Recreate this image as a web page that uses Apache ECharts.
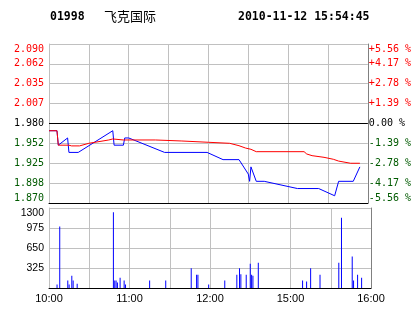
<!DOCTYPE html>
<html><head><meta charset="utf-8">
<script src="https://cdn.jsdelivr.net/npm/echarts@6/dist/echarts.min.js"></script>
<style>html,body{margin:0;padding:0;background:#fff}#c{width:414px;height:314px}</style>
</head><body><div id="c"></div>
<script>
const stockCode = '01998';
const stockName = '飞克国际';
const timestamp = '2010-11-12 15:54:45';
const prevClose = 1.98;
const priceTickLabels = ['1.870','1.898','1.925','1.952','1.980','2.007','2.035','2.062','2.090'];
const pctTickLabels = ['-5.56 %','-4.17 %','-2.78 %','-1.39 %','0.00 %','+1.39 %','+2.78 %','+4.17 %','+5.56 %'];
const volTickLabels = ['', '325', '650', '975', '1300'];
const timeTickLabels = ['10:00', '', '11:00', '', '12:00', '', '15:00', '', '16:00'];

const priceTimes = ['10:00','10:06','10:07','10:14','10:15','10:22','10:48','10:49','10:56','10:57','11:00','11:27','11:59','12:11','12:23','12:30','14:31','14:32','14:36','14:42','15:07','15:23','15:35','15:38','15:49','15:54'];
const priceValues = [1.970,1.970,1.950,1.960,1.940,1.940,1.970,1.950,1.950,1.960,1.960,1.940,1.940,1.930,1.930,1.910,1.900,1.920,1.900,1.900,1.890,1.890,1.880,1.900,1.900,1.920];

const avgTimes = ['10:00','10:06','10:07','10:15','10:17','10:23','10:30','10:45','10:48','10:56','11:20','11:21','11:40','11:41','12:00','12:16','12:23','12:28','14:32','14:36','15:12','15:14','15:18','15:27','15:34','15:38','15:47','15:54'];
const avgValues = [1.970,1.970,1.950,1.950,1.949,1.949,1.9526,1.9572,1.9586,1.9572,1.9572,1.9558,1.9558,1.954,1.954,1.9526,1.9493,1.946,1.9443,1.941,1.941,1.9378,1.9355,1.9332,1.9305,1.928,1.925,1.925];

const volTimes = ['10:06','10:08','10:14','10:15','10:17','10:18','10:21','10:48','10:49','10:50','10:51','10:53','10:56','10:57','11:15','11:27','11:46','11:50','11:51','11:59','12:11','12:20','12:22','12:23','12:27','12:30','14:31','14:32','14:36','15:09','15:12','15:15','15:22','15:36','15:38','15:46','15:47','15:50','15:53'];
const volValues = [55,1000,120,55,200,120,70,1230,120,120,90,165,120,55,120,120,320,215,215,55,120,215,320,225,215,395,215,200,410,120,105,320,215,410,1140,510,120,215,165];

function toMin(s){const p=s.split(':').map(Number);const t=p[0]*60+p[1];return t>=870?t-870+150:t-600;}
const RED='#ff0000', GREEN='#005a00', GRID='#c0c0c0';
function lblColor(v){v=parseFloat(v);if(Math.abs(v-prevClose)<1e-6)return '#000';return v>prevClose?RED:GREEN;}
function pIdx(v){return Math.round((parseFloat(v)-1.87)/0.0275);}

const chart = echarts.init(document.getElementById('c'), null, {renderer:'canvas'});
chart.setOption({
  animation:false,
  backgroundColor:'#fff',
  graphic:[
    {type:'text',x:50,y:17,style:{text:stockCode,font:'bold 11.5px "DejaVu Sans Mono"',fill:'#000',textVerticalAlign:'middle'}},
    {type:'text',x:104,y:16,style:{text:stockName,font:'13px "Noto Sans CJK SC"',fill:'#000',textVerticalAlign:'middle'}},
    {type:'text',x:238,y:17,style:{text:timestamp,font:'bold 11.5px "DejaVu Sans Mono"',fill:'#000',textVerticalAlign:'middle'}}
  ],
  grid:[
    {left:49,right:43,top:44,height:159},
    {left:49,right:43,top:208,height:80}
  ],
  xAxis:[
    {gridIndex:0,type:'value',min:0,max:240,interval:30,axisLabel:{show:false},axisTick:{show:false},
     axisLine:{lineStyle:{color:'#000',width:1}},splitLine:{show:true,lineStyle:{color:GRID,width:1}}},
    {gridIndex:1,type:'value',min:0,max:240,interval:30,axisTick:{show:false},
     axisLine:{lineStyle:{color:'#000',width:1}},splitLine:{show:true,lineStyle:{color:GRID,width:1}},
     axisLabel:{margin:5,fontFamily:'Liberation Sans',fontSize:11,color:'#000',
       formatter:function(v){return timeTickLabels[Math.round(v/30)]||'';}}}
  ],
  yAxis:[
    {gridIndex:0,type:'value',min:1.87,max:2.09,interval:0.0275,position:'left',
     axisLine:{show:true,lineStyle:{color:GRID}},axisTick:{show:false},
     splitLine:{show:true,lineStyle:{color:GRID,width:1}},
     axisLabel:{margin:5,fontFamily:'DejaVu Sans Mono',fontSize:10,color:lblColor,
       verticalAlignMaxLabel:'top',verticalAlignMinLabel:'bottom',
       formatter:function(v){return priceTickLabels[pIdx(v)];}}},
    {gridIndex:0,type:'value',min:1.87,max:2.09,interval:0.0275,position:'right',
     axisLine:{show:true,lineStyle:{color:'#808080'}},axisTick:{show:false},splitLine:{show:false},
     axisLabel:{margin:1,fontFamily:'DejaVu Sans Mono',fontSize:10,color:lblColor,
       verticalAlignMaxLabel:'top',verticalAlignMinLabel:'bottom',
       formatter:function(v){return pctTickLabels[pIdx(v)];}}},
    {gridIndex:1,type:'value',min:0,max:1300,interval:325,position:'left',
     axisLine:{show:true,lineStyle:{color:GRID}},axisTick:{show:false},
     splitLine:{show:true,lineStyle:{color:GRID,width:1}},
     axisLabel:{margin:5,fontFamily:'Liberation Sans',fontSize:10.5,color:'#000',
       verticalAlignMaxLabel:'top',
       formatter:function(v){return volTickLabels[Math.round(v/325)];}}},
    {gridIndex:1,type:'value',min:0,max:1300,interval:325,position:'right',
     axisLine:{show:true,lineStyle:{color:'#808080'}},axisTick:{show:false},splitLine:{show:false},axisLabel:{show:false}}
  ],
  series:[
    {type:'line',xAxisIndex:0,yAxisIndex:0,showSymbol:false,lineStyle:{color:'#0000ff',width:1},
     data:priceTimes.map((t,i)=>[toMin(t),priceValues[i]]),z:3},
    {type:'line',xAxisIndex:0,yAxisIndex:0,showSymbol:false,lineStyle:{color:'#ff0000',width:1},
     data:avgTimes.map((t,i)=>[toMin(t),avgValues[i]]),z:4,
     markLine:{silent:true,symbol:'none',label:{show:false},lineStyle:{color:'#000',width:1,type:'solid'},data:[{yAxis:prevClose}]}},
    {type:'bar',xAxisIndex:1,yAxisIndex:2,barWidth:1,itemStyle:{color:'#0000ff'},
     data:volTimes.map((t,i)=>[toMin(t),volValues[i]])}
  ]
});
</script></body></html>
